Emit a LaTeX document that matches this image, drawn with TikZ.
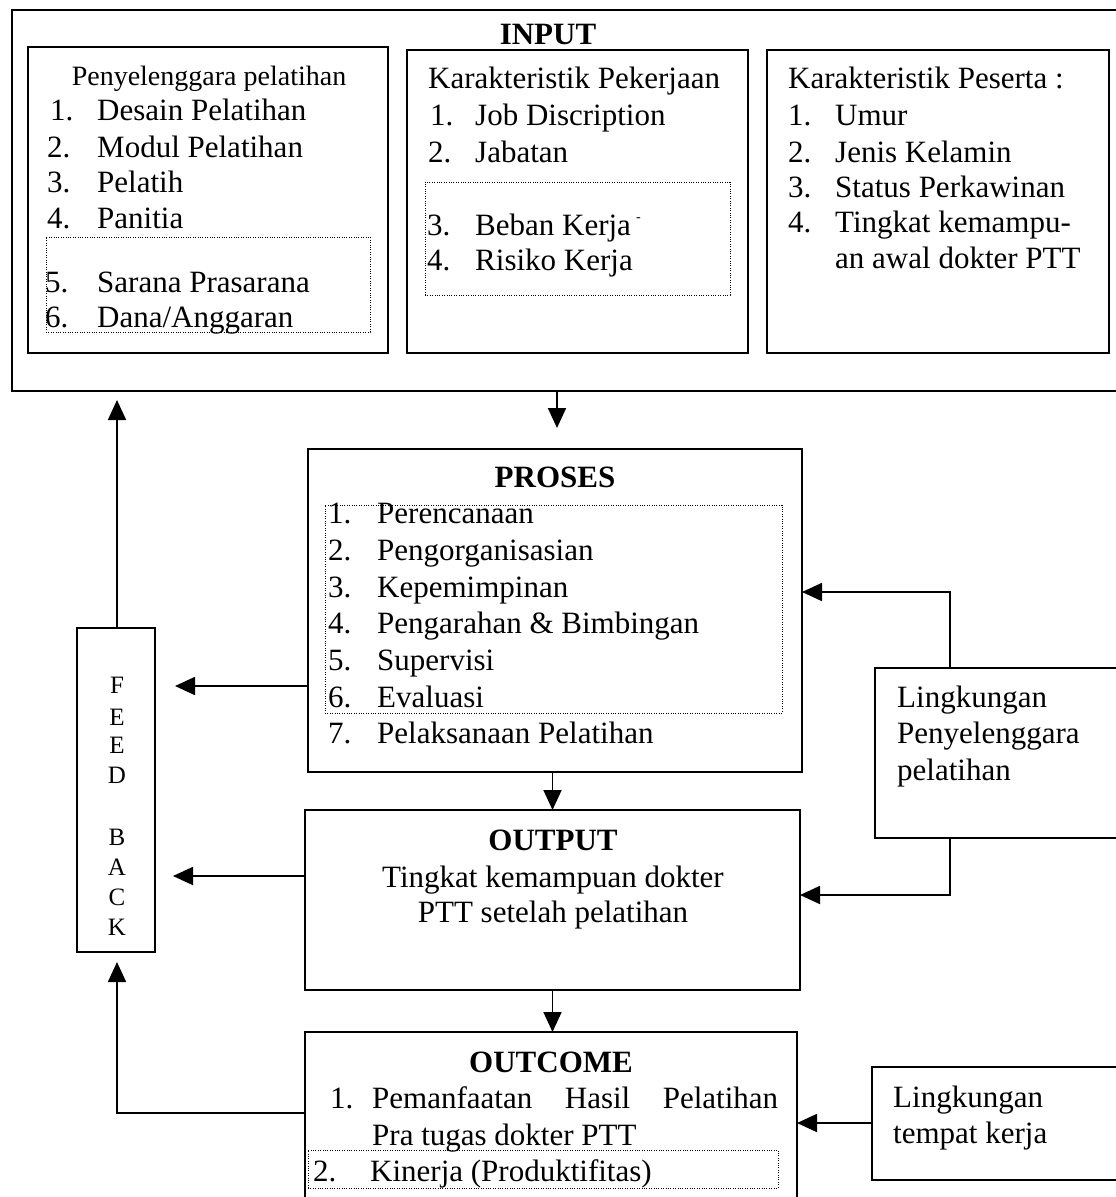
\documentclass[tikz,border=0pt]{standalone}
\usepackage{fontspec}
\setmainfont{Liberation Serif}
\usetikzlibrary{arrows.meta,fit}
\begin{document}
\begin{tikzpicture}[x=1pt,y=-1pt,
  frame/.style={draw, line width=2.2pt, inner sep=0pt, outer sep=0pt},
  dotbox/.style={draw, line width=0.9pt, dash pattern=on 1pt off 1.4pt, inner sep=0pt, outer sep=0pt},
  txt/.style={anchor=base west, inner sep=0pt, font=\fontsize{31}{36}\selectfont},
  ctxt/.style={txt, anchor=base},
  ttl/.style={anchor=base, inner sep=0pt, font=\fontsize{31}{36}\selectfont\bfseries},
  fbl/.style={anchor=base, inner sep=0pt, font=\fontsize{25}{30}\selectfont},
  arr/.style={line width=1.8pt, -{Triangle[length=20pt,width=18pt]}},
]
\clip (0,0) rectangle (1116,1197);

% ---------- INPUT block ----------
\node[frame, fit={(12,10) (1140,391)}] (inframe) {};
\node[ttl] (intitle) at (548,44) {INPUT};

\node[frame, fit={(28,47) (388,353)}] (b1) {};
\node[dotbox, fit={(46,237) (370,332)}] (b1d) {};
\node[ctxt, font=\fontsize{28}{34}\selectfont] (b1h) at (209,85) {Penyelenggara pelatihan};
\node[txt] (b1n1) at (50,120) {1.};  \node[txt] (b1i1) at (97,120) {Desain Pelatihan};
\node[txt] (b1n2) at (47,157) {2.};  \node[txt] (b1i2) at (97,157) {Modul Pelatihan};
\node[txt] (b1n3) at (47,192) {3.};  \node[txt] (b1i3) at (97,192) {Pelatih};
\node[txt] (b1n4) at (47,228) {4.};  \node[txt] (b1i4) at (97,228) {Panitia};
\node[txt] (b1n5) at (45,292) {5.};  \node[txt] (b1i5) at (97,292) {Sarana Prasarana};
\node[txt] (b1n6) at (45,327) {6.};  \node[txt] (b1i6) at (97,327) {Dana/Anggaran};

\node[frame, fit={(407,50) (748,353)}] (b2) {};
\node[dotbox, fit={(425,182) (730,295)}] (b2d) {};
\node[txt] (b2h) at (428,88) {Karakteristik Pekerjaan};
\node[txt] (b2n1) at (430,125) {1.};  \node[txt] (b2i1) at (475,125) {Job Discription};
\node[txt] (b2n2) at (428,162) {2.};  \node[txt] (b2i2) at (475,162) {Jabatan};
\node[txt] (b2n3) at (427,235) {3.};  \node[txt] (b2i3) at (475,235) {Beban Kerja\,\raisebox{0.45em}{\fontsize{14}{14}\selectfont -}};
\node[txt] (b2n4) at (427,270) {4.};  \node[txt] (b2i4) at (475,270) {Risiko Kerja};

\node[frame, fit={(767,50) (1109,353)}] (b3) {};
\node[txt] (b3h) at (788,88) {Karakteristik Peserta :};
\node[txt] (b3n1) at (788,125) {1.};  \node[txt] (b3i1) at (835,125) {Umur};
\node[txt] (b3n2) at (788,162) {2.};  \node[txt] (b3i2) at (835,162) {Jenis Kelamin};
\node[txt] (b3n3) at (788,197) {3.};  \node[txt] (b3i3) at (835,197) {Status Perkawinan};
\node[txt] (b3n4) at (788,232) {4.};  \node[txt] (b3i4) at (835,232) {Tingkat kemampu-};
\node[txt] (b3i5) at (835,268) {an awal dokter PTT};

% ---------- PROSES ----------
\node[frame, fit={(308,449) (802,772)}] (proses) {};
\node[dotbox, fit={(325,505) (782,713)}] (prosesd) {};
\node[ttl] (prt) at (555,487) {PROSES};
\node[txt] (pn1) at (328,523) {1.};  \node[txt] (pi1) at (377,523) {Perencanaan};
\node[txt] (pn2) at (328,560) {2.};  \node[txt] (pi2) at (377,560) {Pengorganisasian};
\node[txt] (pn3) at (328,597) {3.};  \node[txt] (pi3) at (377,597) {Kepemimpinan};
\node[txt] (pn4) at (328,633) {4.};  \node[txt] (pi4) at (377,633) {Pengarahan \& Bimbingan};
\node[txt] (pn5) at (328,670) {5.};  \node[txt] (pi5) at (377,670) {Supervisi};
\node[txt] (pn6) at (328,707) {6.};  \node[txt] (pi6) at (377,707) {Evaluasi};
\node[txt] (pn7) at (328,743) {7.};  \node[txt] (pi7) at (377,743) {Pelaksanaan Pelatihan};

% ---------- OUTPUT ----------
\node[frame, fit={(305,810) (800,990)}] (output) {};
\node[ttl] (ott) at (553,850) {OUTPUT};
\node[ctxt] (ol1) at (553,887) {Tingkat kemampuan dokter};
\node[ctxt] (ol2) at (553,922) {PTT setelah pelatihan};

% ---------- OUTCOME ----------
\node[frame, fit={(305,1032) (797,1230)}] (outcome) {};
\node[dotbox, fit={(308,1150) (778,1188)}] (outcomed) {};
\node[ttl] (oct) at (551,1072) {OUTCOME};
\node[txt] (ocn1) at (330,1108) {1.};
\node[txt] (oci1) at (372,1108) {\makebox[406pt][s]{Pemanfaatan Hasil Pelatihan}};
\node[txt] (oci1b) at (372,1145) {Pra tugas dokter PTT};
\node[txt] (ocn2) at (313,1181) {2.};  \node[txt] (oci2) at (370,1181) {Kinerja (Produktifitas)};

% ---------- FEED BACK ----------
\node[frame, fit={(77,628) (155,952)}] (feed) {};
\foreach \l/\y [count=\i] in {F/693,E/725,E/753,D/783,B/845,A/875,C/905,K/935}
  \node[fbl] (fbl\i) at (117,\y) {\l};

% ---------- environment boxes ----------
\node[frame, fit={(875,668) (1140,838)}] (ling1) {};
\node[txt] (l1a) at (897,707) {Lingkungan};
\node[txt] (l1b) at (897,743) {Penyelenggara};
\node[txt] (l1c) at (897,780) {pelatihan};

\node[frame, fit={(872,1067) (1140,1180)}] (ling2) {};
\node[txt] (l2a) at (893,1107) {Lingkungan};
\node[txt] (l2b) at (893,1143) {tempat kerja};

% ---------- connectors ----------
\coordinate (pin) at (557,428);
\draw[arr] (pin |- inframe.south) -- (pin);
\draw[arr] (proses.south -| output.north) -- (output.north);
\draw[arr] (output.south) -- (output.south |- outcome.north);

\coordinate (fbA) at (175,686);
\coordinate (fbB) at (173,876);
\draw[arr] (fbA -| proses.west) -- (fbA);
\draw[arr] (fbB -| output.west) -- (fbB);

\coordinate (fbUp) at (117,400);
\draw[arr] (fbUp |- feed.north) -- (fbUp);
\coordinate (fbLow) at (117,962);
\coordinate (ocy) at (0,1113);
\draw[arr] (outcome.west |- ocy) -- (fbLow |- ocy) -- (fbLow);

\coordinate (l1top) at (950,592);
\coordinate (l1bot) at (950,895);
\draw[arr] (l1top |- ling1.north) -- (l1top) -- (l1top -| proses.east);
\draw[arr] (l1bot |- ling1.south) -- (l1bot) -- (l1bot -| output.east);

\coordinate (l2y) at (0,1123);
\draw[arr] (ling2.west |- l2y) -- (outcome.east |- l2y);
\end{tikzpicture}
\end{document}
